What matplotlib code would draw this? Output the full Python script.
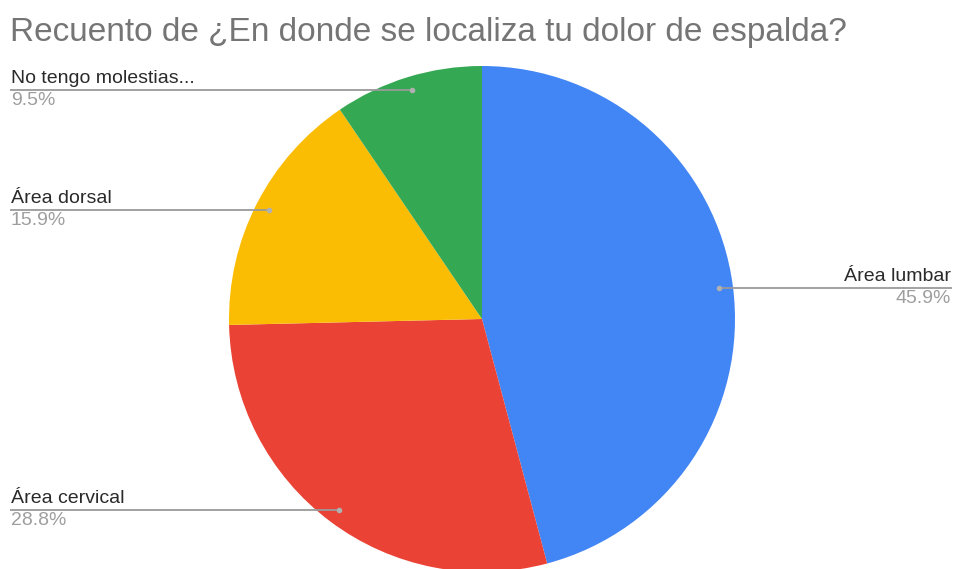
import matplotlib
matplotlib.use("Agg")
import matplotlib.pyplot as plt
import numpy as np

labels = ["Área lumbar", "Área cervical", "Área dorsal", "No tengo molestias..."]
values = [45.9, 28.8, 15.9, 9.5]
pct_labels = ["45.9%", "28.8%", "15.9%", "9.5%"]
colors = ["#4285F4", "#EA4335", "#FBBC04", "#34A853"]
title = "Recuento de ¿En donde se localiza tu dolor de espalda?"

W, H = 958, 569
fig = plt.figure(figsize=(W / 100, H / 100), dpi=100)
ax = fig.add_axes([0, 0, 1, 1])

cx, cy, R = 482, H - 319, 253
wedges, _ = ax.pie(values, colors=colors, startangle=90, counterclock=False,
                   center=(cx, cy), radius=R, frame=True,
                   wedgeprops=dict(linewidth=0))
ax.set_xlim(0, W)
ax.set_ylim(0, H)
ax.set_aspect("equal")
ax.axis("off")

font = ["Liberation Sans", "DejaVu Sans"]
for w, lab, pct in zip(wedges, labels, pct_labels):
    ang = np.deg2rad((w.theta1 + w.theta2) / 2)
    px = cx + 0.945 * R * np.cos(ang)
    py = cy + 0.945 * R * np.sin(ang)
    if np.cos(ang) > 0:
        x_end = 952
        ha = "right"
    else:
        x_end = 10
        ha = "left"
    ax.plot([px, x_end], [py, py], color="#9a9a9a", lw=1.3, solid_capstyle="butt", zorder=3)
    ax.plot([px], [py], "o", color="#b0b0b0", ms=3, zorder=4)
    tx = x_end + (-1 if ha == "right" else 1)
    ax.text(tx, py + 3, lab, ha=ha, va="bottom", fontsize=14, family=font, color="#2a2a2a")
    ax.text(tx, py - 2, pct, ha=ha, va="top", fontsize=14, family=font, color="#9e9e9e")

fig.text(10 / W, 1 - 33 / H, title, ha="left", va="center", fontsize=24, family=font, color="#757575")

fig.savefig("out.png", dpi=100)
